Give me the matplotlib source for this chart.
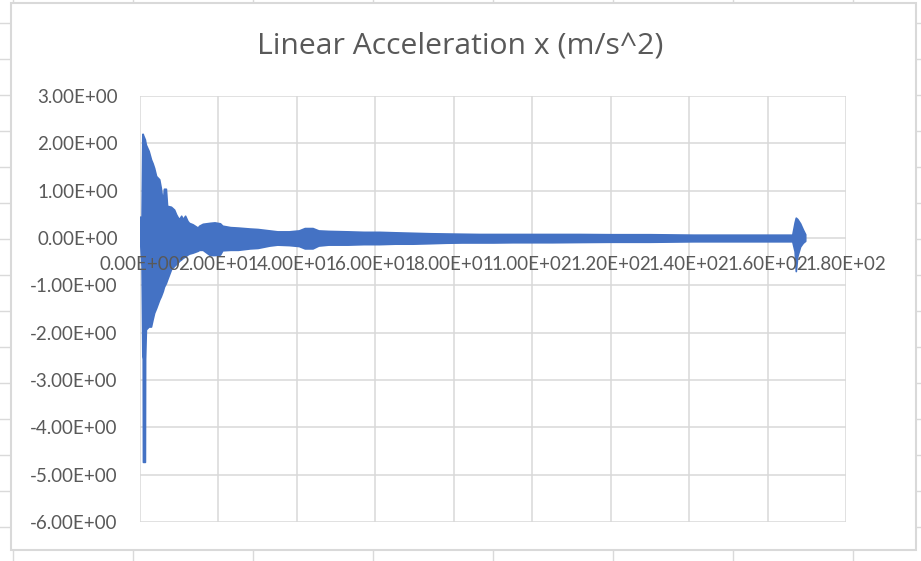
import matplotlib
matplotlib.use("Agg")
import matplotlib.pyplot as plt
from matplotlib.lines import Line2D
from matplotlib.patches import Rectangle
from matplotlib.ticker import FuncFormatter

# ---- data ----
title = "Linear Acceleration x (m/s^2)"
time_s = [0.0, 0.4, 0.6, 0.7, 0.75, 1.25, 1.3, 1.5, 2.2, 2.8, 3.2, 3.6, 4.1, 4.9,
          5.3, 5.8, 6.1, 6.6, 6.9, 7.9, 8.7, 9.2, 9.6, 10.0, 10.5, 10.9, 11.5,
          12.1, 12.5, 13.4, 14.7, 15.1, 16.0, 17.8, 19.0, 20.4, 21.0, 23.0, 25.0,
          28.0, 30.0, 33.0, 35.0, 38.0, 40.5, 42.0, 44.0, 45.5, 48.0, 53.0, 57.0,
          61.0, 65.0, 69.5, 74.0, 78.0, 82.0, 86.5, 90.0, 95.0, 100.0, 105.0,
          112.0, 120.0, 130.0, 141.0, 150.0, 160.0, 166.3, 166.9, 167.2, 167.6,
          168.3, 169.0, 169.6]
upper = [0.45, 0.45, 2.20, 2.20, 2.18, 2.08, 2.05, 1.97, 1.84, 1.66, 1.58, 1.48,
         1.31, 1.24, 1.06, 0.75, 1.04, 1.04, 0.68, 0.66, 0.60, 0.50, 0.44, 0.40,
         0.47, 0.40, 0.47, 0.36, 0.32, 0.29, 0.22, 0.26, 0.30, 0.32, 0.33, 0.31,
         0.26, 0.23, 0.22, 0.20, 0.19, 0.16, 0.14, 0.14, 0.16, 0.21, 0.21, 0.16,
         0.15, 0.14, 0.13, 0.13, 0.12, 0.11, 0.10, 0.095, 0.09, 0.085, 0.085,
         0.085, 0.085, 0.085, 0.085, 0.08, 0.08, 0.07, 0.07, 0.07, 0.07, 0.33,
         0.43, 0.40, 0.31, 0.18, 0.08]
lower = [-0.05, -0.60, -2.50, -2.55, -4.73, -4.73, -2.55, -1.93, -1.87, -1.87,
         -1.72, -1.58, -1.48, -1.30, -1.23, -1.12, -1.03, -0.95, -0.88, -0.66,
         -0.59, -0.55, -0.52, -0.48, -0.45, -0.42, -0.39, -0.35, -0.33, -0.31,
         -0.27, -0.25, -0.25, -0.36, -0.36, -0.35, -0.26, -0.25, -0.25, -0.22,
         -0.21, -0.16, -0.14, -0.15, -0.17, -0.22, -0.22, -0.16, -0.14, -0.14,
         -0.13, -0.13, -0.12, -0.12, -0.11, -0.10, -0.095, -0.095, -0.095,
         -0.09, -0.09, -0.09, -0.085, -0.08, -0.08, -0.07, -0.07, -0.07, -0.07,
         -0.28, -0.70, -0.38, -0.18, -0.10, -0.06]
x_ticks = [0, 20, 40, 60, 80, 100, 120, 140, 160, 180]
y_ticks = [3, 2, 1, 0, -1, -2, -3, -4, -5, -6]

# ---- figure ----
W, H = 921, 561
fig = plt.figure(figsize=(W / 100, H / 100), dpi=100)
fig.patch.set_facecolor("white")

def fx(px):
    return px / W

def fy(py):
    return 1 - py / H

sheet_col = "#dadada"
# worksheet gridlines behind the chart
for xc in range(13, W, 120):
    fig.add_artist(Line2D([fx(xc), fx(xc)], [0, 1], transform=fig.transFigure,
                          color=sheet_col, lw=1.0, zorder=0))
for yr in range(23, H, 36):
    fig.add_artist(Line2D([0, 1], [fy(yr), fy(yr)], transform=fig.transFigure,
                          color=sheet_col, lw=1.0, zorder=0))
# chart area
fig.add_artist(Rectangle((fx(11), fy(550)), fx(916) - fx(11), fy(3) - fy(550),
                         transform=fig.transFigure, facecolor="white",
                         edgecolor="#d9d9d9", lw=1.5, zorder=1))

ax = fig.add_axes([fx(140), fy(522), fx(846) - fx(140), fy(96) - fy(522)], zorder=2)
ax.set_facecolor("none")

fam = ["Lato", "DejaVu Sans"]
title_fam = ["Open Sans", "DejaVu Sans"]
txt_col = "#595959"
grid_col = "#d9d9d9"
blue = "#4472C4"

ax.set_xlim(x_ticks[0], x_ticks[-1])
ax.set_ylim(y_ticks[-1], y_ticks[0])

# gridlines drawn beneath the data
for xv in x_ticks:
    ax.axvline(xv, color=grid_col, lw=1.1, zorder=0)
for yv in y_ticks:
    ax.axhline(yv, color=grid_col, lw=1.1, zorder=0)

ax.fill_between(time_s, lower, upper, facecolor=blue, edgecolor=blue,
                lw=1.2, zorder=3)

ax.set_xticks(x_ticks)
ax.set_yticks(y_ticks)
for s in ["top", "right", "left", "bottom"]:
    ax.spines[s].set_visible(False)
ax.spines["bottom"].set_position(("data", 0))

fmt = FuncFormatter(lambda v, p: f"{v:.2E}")
ax.xaxis.set_major_formatter(fmt)
ax.yaxis.set_major_formatter(fmt)
ax.tick_params(axis="both", length=0, labelsize=13.5, labelcolor=txt_col)
ax.tick_params(axis="x", pad=13)
ax.tick_params(axis="y", pad=16)
for lab in ax.get_xticklabels() + ax.get_yticklabels():
    lab.set_family(fam)
ax.xaxis.set_zorder(5)
ax.yaxis.set_zorder(5)

fig.text(fx(460.5), fy(46), title, ha="center", va="center",
         fontsize=21.7, color=txt_col, family=title_fam)

fig.savefig("out.png", dpi=100, facecolor="white")
